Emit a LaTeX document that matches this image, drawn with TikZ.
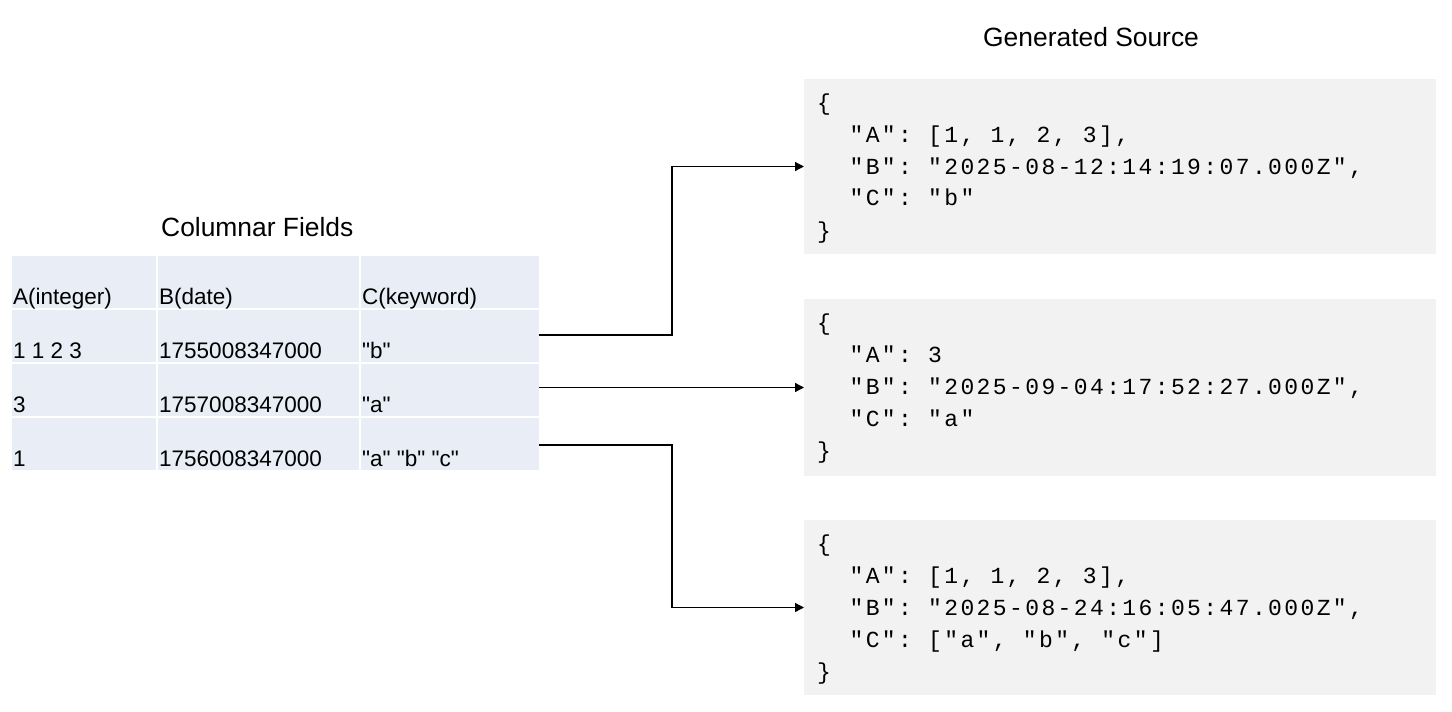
\documentclass[tikz,border=0pt]{standalone}
\usepackage{fontspec}
\setmainfont{Liberation Sans}[Ligatures=TeXOff]
\newfontfamily\codefont[LetterSpace=10.4]{Liberation Mono}
\usetikzlibrary{arrows.meta}
\definecolor{cellfill}{HTML}{E9EEF6}
\definecolor{codefill}{HTML}{F2F2F2}
\frenchspacing
\newcommand{\codelines}[5]{\vtop{\baselineskip=32pt\lineskiplimit=-60pt\lineskip=0pt
  \hbox{#1}\hbox{#2}\hbox{#3}\hbox{#4}\hbox{#5}}}
\begin{document}
\begin{tikzpicture}[x=1pt,y=-1pt,
  cell/.style={fill=cellfill, draw=none, inner sep=0pt, outer sep=0pt, anchor=north west, minimum height=52pt},
  celltext/.style={anchor=base west, inner sep=0pt, font=\fontsize{22.5}{26}\selectfont},
  title/.style={anchor=base west, inner sep=0pt, font=\fontsize{26.4}{30}\selectfont},
  codebox/.style={fill=codefill, draw=none, inner sep=0pt, outer sep=0pt, anchor=north west, minimum width=632pt},
  codetext/.style={anchor=base west, inner sep=0pt, font=\codefont\fontsize{23}{32}\selectfont\frenchspacing},
  conn/.style={draw=black, line width=1.3pt, -{Triangle[length=9pt,width=9pt]}}]
\useasboundingbox (0,0) rectangle (1452,712);
% titles
\node[title] (tleft) at (161,236) {Columnar Fields};
\node[title] (tright) at (983,46) {Generated Source};
% table cells
\foreach \r/\y in {h/256,r1/310,r2/364,r3/418}{
  \node[cell, minimum width=144pt] (\r c1) at (12,\y) {};
  \node[cell, minimum width=201pt] (\r c2) at (158,\y) {};
  \node[cell, minimum width=178pt] (\r c3) at (361,\y) {};
}
% table texts
\node[celltext] (th1) at (13,304) {A(integer)};
\node[celltext] (th2) at (159,304) {B(date)};
\node[celltext] (th3) at (362,304) {C(keyword)};
\node[celltext] (t11) at (13,358) {1 1 2 3};
\node[celltext] (t12) at (159,358) {1755008347000};
\node[celltext] (t13) at (362,358) {"b"};
\node[celltext] (t21) at (13,412) {3};
\node[celltext] (t22) at (159,412) {1757008347000};
\node[celltext] (t23) at (362,412) {"a"};
\node[celltext] (t31) at (13,466) {1};
\node[celltext] (t32) at (159,466) {1756008347000};
\node[celltext] (t33) at (362,466) {"a" "b" "c"};
% code boxes
\node[codebox, minimum height=175pt] (box1) at (804,79) {};
\node[codebox, minimum height=177pt] (box2) at (804,299) {};
\node[codebox, minimum height=175pt] (box3) at (804,520) {};
\node[codetext] (code1) at (817,110) {\codelines{\{}{\ \ "A": [1, 1, 2, 3],}{\ \ "B": "2025-08-12:14:19:07.000Z",}{\ \ "C": "b"}{\}}};
\node[codetext] (code2) at (817,330) {\codelines{\{}{\ \ "A": 3}{\ \ "B": "2025-09-04:17:52:27.000Z",}{\ \ "C": "a"}{\}}};
\node[codetext] (code3) at (817,551) {\codelines{\{}{\ \ "A": [1, 1, 2, 3],}{\ \ "B": "2025-08-24:16:05:47.000Z",}{\ \ "C": ["a", "b", "c"]}{\}}};
% connectors
\draw[conn] ([yshift=1pt]r1c3.east) -- ++(133,0) |- (box1.west);
\draw[conn] (box2.west -| r2c3.east) -- (box2.west);
\draw[conn] ([yshift=-1pt]r3c3.east) -- ++(133,0) |- (box3.west);
\end{tikzpicture}
\end{document}
